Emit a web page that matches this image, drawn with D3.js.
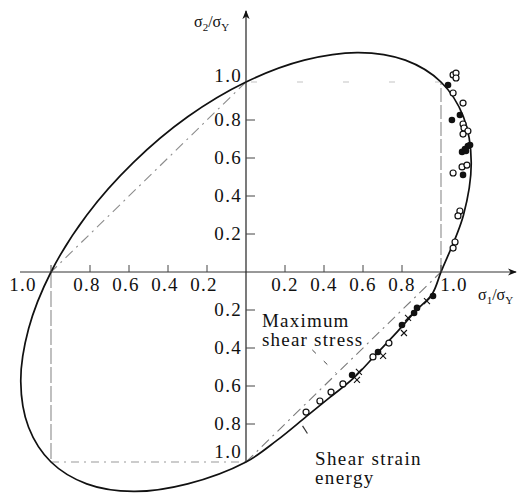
<!DOCTYPE html>
<html>
<head>
<meta charset="utf-8">
<script src="https://cdn.jsdelivr.net/npm/d3@7/dist/d3.min.js"></script>
<style>
  html, body { margin: 0; padding: 0; background: #fff; }
  svg { display: block; }
  text { font-family: "Liberation Serif", "Times New Roman", serif; fill: #111; }
</style>
</head>
<body>
<svg id="chart" width="525" height="493"></svg>
<script>
// Biaxial yield locus: shear-strain-energy curve, maximum-shear-stress hexagon, test points
const tickValues = [0.2, 0.4, 0.6, 0.8, 1.0];
const tickLabels = ["0.2", "0.4", "0.6", "0.8", "1.0"];

// shear strain energy locus, traced counter-clockwise from (1, 0) through the fourth quadrant
const locusS1 = [1.0, 0.955, 0.87, 0.78, 0.67, 0.55, 0.43, 0.31, 0.16, 0.0,
                 -0.299, -0.577, -0.817, -1.0, -1.115, -1.155, -1.115, -1.0,
                 -0.817, -0.577, -0.299, 0.0, 0.299, 0.577, 0.817, 1.0,
                 1.115, 1.155, 1.115];
const locusS2 = [0.0, -0.115, -0.205, -0.31, -0.43, -0.56, -0.66, -0.76, -0.885, -1.0,
                 -1.115, -1.155, -1.115, -1.0, -0.817, -0.577, -0.299, 0.0,
                 0.299, 0.577, 0.817, 1.0, 1.115, 1.155, 1.115, 1.0,
                 0.817, 0.577, 0.299];

// open circles (sigma1/sigmaY, sigma2/sigmaY)
const openS1 = [1.062, 1.077, 1.077, 1.062, 1.113, 1.113, 1.118, 1.138, 1.113, 1.108, 1.133, 1.062, 1.097, 1.087, 1.072, 1.062,
                0.733, 0.651, 0.497, 0.436, 0.379, 0.308];
const openS2 = [1.037, 1.047, 1.021, 0.942, 0.889, 0.779, 0.758, 0.742, 0.726, 0.553, 0.563, 0.521, 0.321, 0.295, 0.158, 0.126,
                -0.374, -0.447, -0.589, -0.632, -0.679, -0.737];
// filled circles
const solidS1 = [1.036, 1.097, 1.056, 1.108, 1.123, 1.138, 1.149, 1.128, 1.113,
                 0.959, 0.877, 0.862, 0.800, 0.677, 0.544];
const solidS2 = [0.984, 0.826, 0.800, 0.632, 0.647, 0.663, 0.668, 0.637, 0.511,
                 -0.126, -0.189, -0.216, -0.279, -0.421, -0.542];
// crosses
const crossS1 = [0.928, 0.831, 0.810, 0.703, 0.579, 0.569];
const crossS2 = [-0.153, -0.242, -0.321, -0.442, -0.526, -0.568];

// maximum shear stress hexagon, edge by edge
const trescaS1 = [1, 1, 0, -1, -1, 0, 1];
const trescaS2 = [0, 1, 1, 0, -1, -1, 0];
const trescaTone = ["#8c8c8c", "#c4c4c4", "#8c8c8c", "#8c8c8c", "#9a9a9a", "#7a7a7a"];
const trescaDash = ["14,3", "6,40", "10,5,2,5", "16,3", "8,5,2,5", "10,5,2,5"];

const svg = d3.select("#chart");
const x = d3.scaleLinear().domain([-1, 1]).range([51, 441]);
const y = d3.scaleLinear().domain([-1, 1]).range([462, 82]);

// hexagon edges
d3.range(trescaS1.length - 1).forEach(i => {
  svg.append("line")
    .attr("x1", x(trescaS1[i])).attr("y1", y(trescaS2[i]))
    .attr("x2", x(trescaS1[i + 1])).attr("y2", y(trescaS2[i + 1]))
    .attr("stroke", trescaTone[i]).attr("stroke-width", 1.1)
    .attr("stroke-dasharray", trescaDash[i]);
});

// yield locus
const locus = locusS1.map((v, i) => [v, locusS2[i]]);
svg.append("path")
  .attr("d", d3.line().x(d => x(d[0])).y(d => y(d[1])).curve(d3.curveCatmullRomClosed.alpha(0.5))(locus))
  .attr("fill", "none").attr("stroke", "#111").attr("stroke-width", 1.7);

// axes
const defs = svg.append("defs");
defs.append("marker").attr("id", "arr").attr("viewBox", "0 0 10 10")
  .attr("refX", 9).attr("refY", 5).attr("markerWidth", 9).attr("markerHeight", 9)
  .attr("orient", "auto-start-reverse").attr("markerUnits", "userSpaceOnUse")
  .append("path").attr("d", "M0,1 L10,5 L0,9 L3,5 Z").attr("fill", "#111");

svg.append("line").attr("x1", 20).attr("x2", 516).attr("y1", y(0)).attr("y2", y(0))
  .attr("stroke", "#333").attr("stroke-width", 1).attr("marker-end", "url(#arr)");
svg.append("line").attr("x1", x(0)).attr("x2", x(0)).attr("y1", y(-1)).attr("y2", 11)
  .attr("stroke", "#222").attr("stroke-width", 1.2).attr("marker-end", "url(#arr)");

// x ticks (both signs), pointing up
const xt = tickValues.flatMap(v => [v, -v]);
svg.selectAll(".xt").data(xt).join("line")
  .attr("x1", d => x(d)).attr("x2", d => x(d)).attr("y1", y(0)).attr("y2", y(0) - 7)
  .attr("stroke", "#444").attr("stroke-width", 1);
// y ticks pointing right
svg.selectAll(".yt").data(tickValues.slice(0, 4).flatMap(v => [v, -v])).join("line")
  .attr("x1", x(0)).attr("x2", x(0) + 9).attr("y1", d => y(d)).attr("y2", d => y(d))
  .attr("stroke", "#444").attr("stroke-width", 1);

function styled(sel, ls) {
  return sel.style("font-size", "19px").style("letter-spacing", (ls || 1.3) + "px");
}

// x tick labels
tickValues.forEach((v, i) => {
  styled(svg.append("text")).attr("x", x(v) + (v === 1 ? 13 : 0)).attr("y", y(0) + 19)
    .attr("text-anchor", "middle").text(tickLabels[i]);
  styled(svg.append("text")).attr("x", x(-v) - (v === 1 ? 28 : 3)).attr("y", y(0) + 19)
    .attr("text-anchor", "middle").text(tickLabels[i]);
});
// y tick labels
tickValues.forEach((v, i) => {
  styled(svg.append("text")).attr("x", x(0) - 4).attr("y", y(v) + 6 - (v === 1 ? 6 : 0))
    .attr("text-anchor", "end").text(tickLabels[i]);
  styled(svg.append("text")).attr("x", x(0) - 4).attr("y", y(-v) + 6 - (v === 1 ? 10 : 0))
    .attr("text-anchor", "end").text(tickLabels[i]);
});

// axis titles
function ratio(tx, ty, sub) {
  const t = svg.append("text").attr("x", tx).attr("y", ty).style("font-size", "16px");
  t.append("tspan").text("σ");
  t.append("tspan").attr("dy", 4).style("font-size", "11px").text(sub);
  t.append("tspan").attr("dy", -4).text("/σ");
  t.append("tspan").attr("dy", 4).style("font-size", "11px").text("Y");
}
ratio(194, 27, "2");
ratio(478, 300, "1");

// criterion labels with leaders
function note(tx, ty, lines, gap, ls) {
  const t = styled(svg.append("text"), ls).attr("x", tx).attr("y", ty);
  lines.forEach((s, i) => t.append("tspan").attr("x", tx).attr("dy", i ? gap : 0).text(s));
}
note(262, 327, ["Maximum", "shear stress"], 19, 1.2);
note(315, 465, ["Shear strain", "energy"], 19, 1.4);
svg.append("line").attr("x1", x(0.34)).attr("y1", y(-0.41)).attr("x2", x(0.46)).attr("y2", y(-0.53))
  .attr("stroke", "#444").attr("stroke-dasharray", "5,11");
svg.append("line").attr("x1", x(0.29)).attr("y1", y(-0.81)).attr("x2", x(0.315)).attr("y2", y(-0.85))
  .attr("stroke", "#333").attr("stroke-width", 1.2);

// data points
const open = openS1.map((v, i) => [v, openS2[i]]);
const solid = solidS1.map((v, i) => [v, solidS2[i]]);
const cross = crossS1.map((v, i) => [v, crossS2[i]]);

svg.selectAll(".o").data(open).join("circle")
  .attr("cx", d => x(d[0])).attr("cy", d => y(d[1])).attr("r", 3)
  .attr("fill", "#fff").attr("stroke", "#111").attr("stroke-width", 1.2);
svg.selectAll(".s").data(solid).join("circle")
  .attr("cx", d => x(d[0])).attr("cy", d => y(d[1])).attr("r", 3.3)
  .attr("fill", "#111");
svg.selectAll(".c").data(cross).join("path")
  .attr("d", d => {
    const cx = x(d[0]), cy = y(d[1]), r = 3;
    return `M${cx - r},${cy - r}L${cx + r},${cy + r}M${cx - r},${cy + r}L${cx + r},${cy - r}`;
  })
  .attr("stroke", "#111").attr("stroke-width", 1.1);
</script>
</body>
</html>
